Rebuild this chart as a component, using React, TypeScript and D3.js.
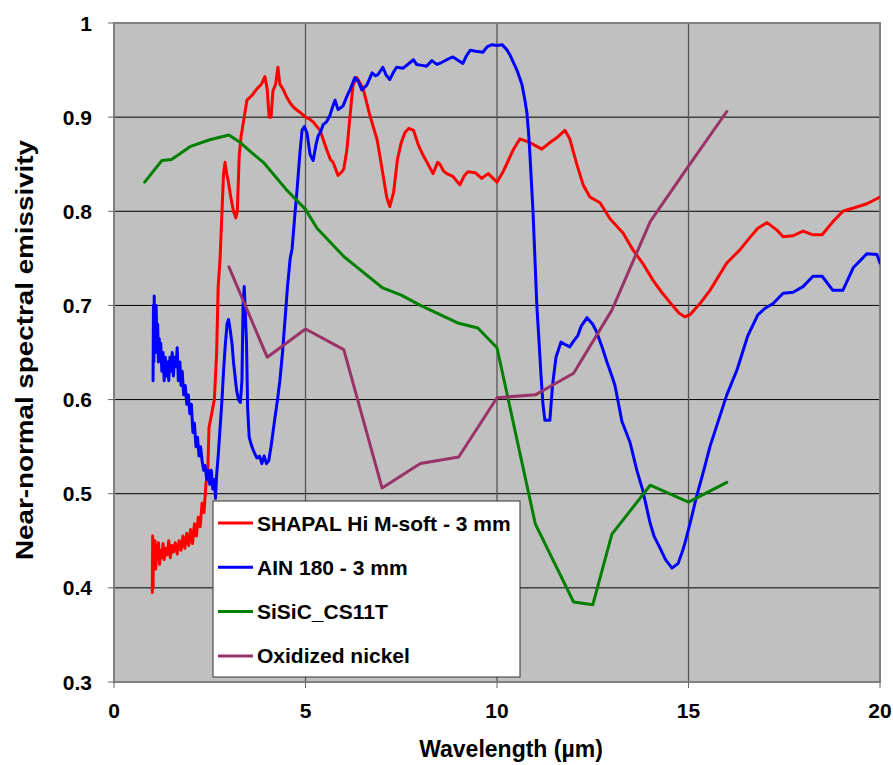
import React from "react";
import * as d3 from "d3";

// Wavelength (µm) / emissivity pairs for each material
const shapalSeries: [number, number][] = [
  [1.0, 0.395], [1.01, 0.455], [1.02, 0.4], [1.03, 0.44], [1.05, 0.43], [1.07, 0.45], [1.09, 0.42],
  [1.11, 0.445], [1.13, 0.43], [1.16, 0.448], [1.19, 0.425], [1.22, 0.44], [1.25, 0.432], [1.28, 0.447],
  [1.31, 0.43], [1.35, 0.442], [1.39, 0.435], [1.43, 0.45], [1.47, 0.432], [1.51, 0.445], [1.55, 0.438],
  [1.6, 0.448], [1.65, 0.436], [1.7, 0.45], [1.75, 0.44], [1.8, 0.455], [1.85, 0.442], [1.9, 0.458],
  [1.95, 0.445], [2.0, 0.462], [2.05, 0.447], [2.1, 0.468], [2.15, 0.455], [2.2, 0.475], [2.25, 0.465],
  [2.3, 0.49], [2.35, 0.48], [2.4, 0.51], [2.45, 0.525], [2.48, 0.57], [2.55, 0.585], [2.62, 0.6],
  [2.68, 0.65], [2.72, 0.72], [2.77, 0.75], [2.82, 0.8], [2.86, 0.84], [2.9, 0.852], [2.94, 0.84],
  [2.98, 0.833], [3.05, 0.815], [3.12, 0.8], [3.18, 0.793], [3.22, 0.8], [3.27, 0.86], [3.32, 0.88],
  [3.4, 0.9], [3.47, 0.918], [3.6, 0.923], [3.73, 0.93], [3.85, 0.935], [3.94, 0.943], [4.0, 0.93],
  [4.05, 0.9], [4.1, 0.9], [4.15, 0.928], [4.22, 0.935], [4.28, 0.953], [4.33, 0.935], [4.41, 0.93],
  [4.5, 0.922], [4.6, 0.915], [4.7, 0.91], [4.86, 0.905], [5.0, 0.9], [5.1, 0.898], [5.2, 0.895],
  [5.38, 0.886], [5.55, 0.866], [5.65, 0.855], [5.72, 0.852], [5.85, 0.838], [5.95, 0.842], [6.0, 0.845],
  [6.08, 0.865], [6.16, 0.9], [6.24, 0.934], [6.34, 0.942], [6.5, 0.931], [6.68, 0.902], [6.87, 0.876],
  [7.02, 0.84], [7.12, 0.815], [7.2, 0.805], [7.3, 0.82], [7.4, 0.855], [7.5, 0.873], [7.6, 0.884],
  [7.7, 0.888], [7.82, 0.886], [7.95, 0.87], [8.04, 0.862], [8.2, 0.85], [8.33, 0.84], [8.45, 0.852],
  [8.51, 0.85], [8.6, 0.843], [8.69, 0.84], [8.85, 0.837], [9.03, 0.828], [9.15, 0.838], [9.24, 0.842],
  [9.43, 0.841], [9.6, 0.835], [9.77, 0.84], [9.9, 0.835], [10.0, 0.831], [10.16, 0.842], [10.42, 0.865],
  [10.6, 0.877], [10.8, 0.874], [10.99, 0.87], [11.17, 0.866], [11.38, 0.873], [11.56, 0.878],
  [11.77, 0.886], [11.9, 0.877], [12.09, 0.849], [12.25, 0.828], [12.43, 0.815], [12.69, 0.809],
  [12.95, 0.792], [13.29, 0.777], [13.55, 0.759], [13.8, 0.745], [14.07, 0.727], [14.3, 0.714],
  [14.52, 0.703], [14.75, 0.692], [14.9, 0.688], [15.04, 0.69], [15.3, 0.702], [15.56, 0.716],
  [16.0, 0.745], [16.34, 0.759], [16.6, 0.772], [16.81, 0.782], [17.05, 0.788], [17.31, 0.78],
  [17.47, 0.773], [17.73, 0.774], [17.99, 0.779], [18.25, 0.775], [18.49, 0.775], [18.75, 0.788],
  [19.03, 0.8], [19.35, 0.804], [19.66, 0.808], [19.85, 0.812], [20.0, 0.815],
];

const alnSeries: [number, number][] = [
  [1.02, 0.62], [1.03, 0.7], [1.04, 0.64], [1.05, 0.71], [1.06, 0.66], [1.07, 0.69], [1.09, 0.65],
  [1.1, 0.7], [1.12, 0.66], [1.14, 0.68], [1.16, 0.64], [1.18, 0.665], [1.2, 0.645], [1.22, 0.66],
  [1.25, 0.63], [1.28, 0.65], [1.31, 0.62], [1.34, 0.645], [1.37, 0.625], [1.4, 0.64], [1.43, 0.62],
  [1.46, 0.645], [1.49, 0.63], [1.52, 0.65], [1.55, 0.625], [1.58, 0.645], [1.62, 0.635], [1.65, 0.655],
  [1.68, 0.62], [1.72, 0.64], [1.75, 0.615], [1.78, 0.63], [1.82, 0.605], [1.86, 0.615], [1.9, 0.595],
  [1.94, 0.605], [1.98, 0.585], [2.02, 0.595], [2.06, 0.565], [2.1, 0.575], [2.14, 0.55], [2.18, 0.56],
  [2.22, 0.54], [2.26, 0.55], [2.3, 0.535], [2.34, 0.525], [2.38, 0.53], [2.42, 0.515], [2.46, 0.525],
  [2.5, 0.51], [2.54, 0.525], [2.58, 0.505], [2.62, 0.515], [2.65, 0.495], [2.68, 0.52], [2.72, 0.54],
  [2.77, 0.57], [2.82, 0.6], [2.86, 0.63], [2.9, 0.655], [2.95, 0.68], [2.99, 0.685], [3.03, 0.675],
  [3.08, 0.66], [3.12, 0.64], [3.16, 0.625], [3.2, 0.61], [3.25, 0.6], [3.3, 0.597], [3.34, 0.62],
  [3.37, 0.7], [3.4, 0.72], [3.43, 0.69], [3.46, 0.66], [3.49, 0.59], [3.53, 0.56], [3.6, 0.55],
  [3.67, 0.543], [3.73, 0.538], [3.8, 0.54], [3.86, 0.532], [3.92, 0.54], [3.98, 0.532], [4.04, 0.535],
  [4.1, 0.55], [4.15, 0.565], [4.2, 0.58], [4.27, 0.6], [4.33, 0.62], [4.4, 0.65], [4.46, 0.682],
  [4.53, 0.72], [4.6, 0.75], [4.65, 0.76], [4.72, 0.795], [4.78, 0.823], [4.85, 0.86], [4.91, 0.886],
  [4.97, 0.89], [5.04, 0.883], [5.12, 0.86], [5.2, 0.854], [5.27, 0.87], [5.33, 0.88], [5.4, 0.885],
  [5.46, 0.892], [5.55, 0.895], [5.64, 0.902], [5.7, 0.91], [5.77, 0.918], [5.85, 0.908], [5.92, 0.91],
  [5.98, 0.912], [6.08, 0.922], [6.16, 0.929], [6.29, 0.942], [6.38, 0.938], [6.47, 0.929], [6.6, 0.934],
  [6.74, 0.947], [6.82, 0.944], [6.89, 0.945], [7.02, 0.953], [7.1, 0.945], [7.2, 0.94], [7.3, 0.948],
  [7.38, 0.953], [7.55, 0.952], [7.7, 0.957], [7.82, 0.961], [7.9, 0.956], [8.05, 0.955], [8.16, 0.954],
  [8.3, 0.96], [8.43, 0.956], [8.55, 0.958], [8.69, 0.961], [8.85, 0.964], [9.0, 0.96], [9.11, 0.957],
  [9.2, 0.965], [9.3, 0.971], [9.45, 0.97], [9.63, 0.969], [9.75, 0.975], [9.87, 0.977], [10.0, 0.976],
  [10.13, 0.977], [10.25, 0.972], [10.34, 0.966], [10.43, 0.958], [10.52, 0.95], [10.65, 0.935],
  [10.72, 0.92], [10.78, 0.905], [10.83, 0.88], [10.86, 0.86], [10.9, 0.83], [10.94, 0.8], [10.97, 0.77],
  [11.0, 0.74], [11.04, 0.7], [11.1, 0.66], [11.15, 0.625], [11.2, 0.595], [11.25, 0.578], [11.38, 0.578],
  [11.45, 0.615], [11.54, 0.645], [11.67, 0.661], [11.8, 0.658], [11.9, 0.656], [12.0, 0.662],
  [12.11, 0.668], [12.2, 0.678], [12.35, 0.687], [12.5, 0.68], [12.6, 0.672], [12.75, 0.655],
  [12.87, 0.64], [13.0, 0.625], [13.08, 0.615], [13.2, 0.59], [13.26, 0.577], [13.47, 0.555],
  [13.65, 0.525], [13.81, 0.503], [13.99, 0.47], [14.1, 0.455], [14.26, 0.442], [14.4, 0.43],
  [14.57, 0.421], [14.73, 0.426], [14.85, 0.44], [14.91, 0.448], [15.05, 0.47], [15.21, 0.497],
  [15.4, 0.525], [15.56, 0.55], [15.8, 0.58], [16.0, 0.605], [16.27, 0.632], [16.55, 0.668],
  [16.81, 0.69], [17.0, 0.697], [17.21, 0.702], [17.47, 0.713], [17.73, 0.714], [17.99, 0.72],
  [18.25, 0.731], [18.49, 0.731], [18.77, 0.716], [19.03, 0.716], [19.3, 0.74], [19.66, 0.755],
  [19.92, 0.754], [20.0, 0.745],
];

const sisicSeries: [number, number][] = [
  [0.8, 0.831], [1.25, 0.854], [1.5, 0.855], [1.75, 0.862], [2.0, 0.869], [2.5, 0.876], [3.0, 0.881],
  [3.3, 0.873], [3.6, 0.862], [3.9, 0.852], [4.5, 0.823], [5.0, 0.802], [5.3, 0.782], [6.0, 0.752],
  [6.3, 0.742], [7.0, 0.719], [7.5, 0.711], [8.0, 0.7], [9.0, 0.681], [9.5, 0.676], [10.0, 0.655],
  [11.0, 0.468], [12.0, 0.385], [12.5, 0.382], [13.0, 0.457], [14.0, 0.509], [15.0, 0.491], [16.0, 0.512],
];

const nickelSeries: [number, number][] = [
  [3, 0.741], [4, 0.645], [5, 0.675], [6, 0.653], [7, 0.506], [8, 0.532], [9, 0.539], [10, 0.602],
  [11, 0.605], [12, 0.628], [13, 0.695], [14, 0.789], [15, 0.848], [16, 0.906],
];

const seriesNames = ["SHAPAL Hi M-soft - 3 mm", "AIN 180 - 3 mm", "SiSiC_CS11T", "Oxidized nickel"];
const seriesColors = ["#FF0000", "#0000FF", "#008000", "#993366"];
const allSeries = [shapalSeries, alnSeries, sisicSeries, nickelSeries];

const xTicks = [0, 5, 10, 15, 20];
const yTicks = [0.3, 0.4, 0.5, 0.6, 0.7, 0.8, 0.9, 1];

const WIDTH = 893;
const HEIGHT = 765;
const plot = { left: 114, right: 880, top: 23, bottom: 682 };
const FONT = "Arial, 'Liberation Sans', Helvetica, sans-serif";

export default function App() {
  const x = d3.scaleLinear().domain([0, 20]).range([plot.left, plot.right]);
  const y = d3.scaleLinear().domain([0.3, 1]).range([plot.bottom, plot.top]);
  const line = d3
    .line<[number, number]>()
    .x((d) => x(d[0]))
    .y((d) => y(d[1]));

  const legend = { x: 213, y: 501, w: 307, h: 176 };

  return (
    <svg
      width={WIDTH}
      height={HEIGHT}
      style={{ position: "absolute", left: 0, top: 0, background: "#fff" }}
      fontFamily={FONT}
    >
      <defs>
        <clipPath id="plot-clip">
          <rect x={plot.left} y={plot.top} width={plot.right - plot.left} height={plot.bottom - plot.top} />
        </clipPath>
      </defs>

      {/* plot background */}
      <rect
        x={plot.left}
        y={plot.top}
        width={plot.right - plot.left}
        height={plot.bottom - plot.top}
        fill="#C0C0C0"
      />

      {/* horizontal gridlines */}
      {yTicks.map((t) => (
        <line key={`hg${t}`} x1={plot.left} x2={plot.right} y1={y(t)} y2={y(t)} stroke="#000" strokeWidth={1} />
      ))}
      {/* vertical gridlines */}
      {xTicks.map((t) => (
        <line key={`vg${t}`} x1={x(t)} x2={x(t)} y1={plot.top} y2={plot.bottom} stroke="#555" strokeWidth={1.3} />
      ))}

      {/* plot frame */}
      <rect
        x={plot.left}
        y={plot.top}
        width={plot.right - plot.left}
        height={plot.bottom - plot.top}
        fill="none"
        stroke="#808080"
        strokeWidth={2}
      />

      {/* ticks */}
      {yTicks.map((t) => (
        <line key={`yt${t}`} x1={plot.left - 6} x2={plot.left} y1={y(t)} y2={y(t)} stroke="#666" strokeWidth={1} />
      ))}
      {xTicks.map((t) => (
        <line key={`xt${t}`} x1={x(t)} x2={x(t)} y1={plot.bottom} y2={plot.bottom + 6} stroke="#666" strokeWidth={1} />
      ))}

      {/* data series */}
      <g clipPath="url(#plot-clip)">
        {allSeries.map((s, i) => (
          <path
            key={seriesNames[i]}
            d={line(s) ?? ""}
            fill="none"
            stroke={seriesColors[i]}
            strokeWidth={3}
            strokeLinejoin="round"
            strokeLinecap="round"
          />
        ))}
      </g>

      {/* tick labels */}
      {yTicks.map((t) => (
        <text
          key={`yl${t}`}
          x={92}
          y={y(t) + 7.5}
          textAnchor="end"
          fontSize={21}
          fontWeight="bold"
          fill="#000"
        >
          {d3.format("")(+t.toFixed(1))}
        </text>
      ))}
      {xTicks.map((t) => (
        <text
          key={`xl${t}`}
          x={x(t)}
          y={718}
          textAnchor="middle"
          fontSize={21}
          fontWeight="bold"
          fill="#000"
        >
          {t}
        </text>
      ))}

      {/* axis titles */}
      <text x={511} y={757} textAnchor="middle" fontSize={23} fontWeight="bold" fill="#000">
        Wavelength (µm)
      </text>
      <text
        transform={`translate(33, 350) rotate(-90)`}
        textAnchor="middle"
        fontSize={23}
        fontWeight="bold"
        fill="#000"
        textLength={420}
        lengthAdjust="spacingAndGlyphs"
      >
        Near-normal spectral emissivity
      </text>

      {/* legend */}
      <rect x={legend.x} y={legend.y} width={legend.w} height={legend.h} fill="#fff" stroke="#333" strokeWidth={1} />
      {seriesNames.map((name, i) => {
        const cy = legend.y + 22 + i * 44.3;
        return (
          <g key={`lg${i}`}>
            <line x1={legend.x + 5} x2={legend.x + 40} y1={cy} y2={cy} stroke={seriesColors[i]} strokeWidth={3} />
            <text x={legend.x + 44} y={cy + 7.5} fontSize={21} fontWeight="bold" fill="#000">
              {name}
            </text>
          </g>
        );
      })}
    </svg>
  );
}
